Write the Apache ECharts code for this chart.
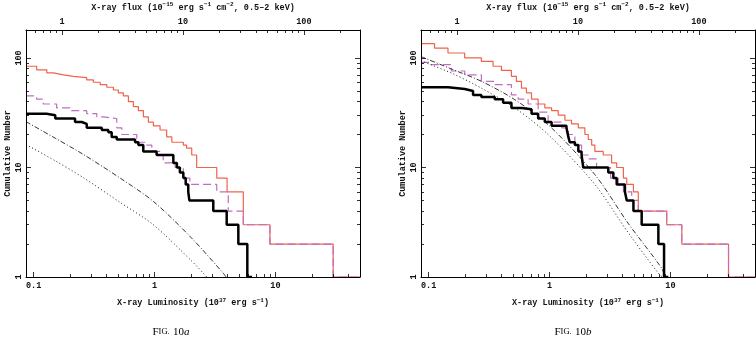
<!DOCTYPE html>
<html><head><meta charset="utf-8">
<script src="https://cdn.jsdelivr.net/npm/echarts@6/dist/echarts.min.js"></script>
<style>html,body{margin:0;padding:0;background:#fff}#c{width:756px;height:341px}</style>
</head><body><div id="c"></div>
<script>
// ---- tick values ----
const lumTickMajor = [0.1, 1, 10];
const lumTickMinor = [0.2,0.3,0.4,0.5,0.6,0.7,0.8,0.9,2,3,4,5,6,7,8,9,20,30,40];
const fluxTickMajor = [1, 10, 100];
const fluxTickMinor = [0.6,0.7,0.8,0.9,2,3,4,5,6,7,8,9,20,30,40,50,60,70,80,90,200];
const nTickMajor = [1, 10, 100];
const nTickMinor = [2,3,4,5,6,7,8,9,20,30,40,50,60,70,80,90];
const lumRange = [0.0865, 50];
const fluxPerLum = 5.82;
const nRange = [1, 180];

// ---- Fig. 10a ----
const a_red_L = [0.0865,0.106,0.1285,0.146,0.1765,0.2135,0.275,0.312,0.355,0.403,0.457,0.502,0.552,0.608,0.668,0.735,0.809,0.889,0.978,1.11,1.26,1.39,1.73,1.84,2.03,2.23,3.27,3.98,5.42,9.0,30,50];
const a_red_N = [84,78,73,70,68,66,63,60,57,54,51,48,45,40,36,33,29,26,24,22,19,17,16,15,13,10,8,6,3,2,1,1];
const a_mag_L = [0.0865,0.106,0.12,0.155,0.2,0.275,0.333,0.377,0.487,0.536,0.713,0.862,0.949,1.11,1.18,1.48,1.73,1.96,3.27,4.07,5.42,9.0,30,50];
const a_mag_N = [45,42,38,35,33,31,29,28,23,20,17,16,14,13,11,10,8,7,6,4,3,2,1,1];
const a_blk_L = [0.0865,0.128,0.151,0.22,0.25,0.275,0.366,0.415,0.442,0.487,0.69,0.735,0.807,1.04,1.43,1.53,1.62,1.73,1.81,1.9,1.94,3.06,3.95,4.93,5.85,6.4];
const a_blk_N = [31,30,28,26,25,23,22,21,19,18,17,16,14,13,11,10,9,8,7,6,5,4,3,2,1,1];
const a_dd_L = [0.0865,0.151,0.2565,0.519,0.977,2.0,3.71,3.9];
const a_dd_N = [26.2,18.5,13.2,8.0,4.9,2.3,1.08,1.0];
const a_dot_L = [0.0865,0.151,0.2565,0.519,0.977,2.0,2.6,2.7];
const a_dot_N = [16.2,11.5,8.1,4.8,3.0,1.42,1.05,1.0];

// ---- Fig. 10b ----
const b_red_L = [0.0865,0.112,0.1446,0.1986,0.273,0.341,0.400,0.484,0.532,0.586,0.644,0.709,0.805,0.914,1.04,1.18,1.34,1.52,1.73,1.96,2.09,2.23,2.37,2.78,3.26,3.59,4.08,4.35,4.94,5.42,9.31,12.4,30.2,50];
const b_red_N = [135,123,111,100,93,84,77,68,61,53,48,42,38,35,33,30,27,25,23,20,18,16,14,13,11,10,8,7,6,4,3,2,1,1];
const b_mag_L = [0.0865,0.105,0.154,0.199,0.273,0.35,0.484,0.55,0.665,0.805,0.973,1.26,1.43,1.62,1.84,2.09,2.45,3.2,3.7,4.08,4.78,5.42,9.31,12.4,30.2,50];
const b_mag_N = [91,87,76,70,61,57,46,42,38,32,26,23,20,16,13,12,10,8,7,6,5,4,3,2,1,1];
const b_blk_L = [0.0865,0.145,0.199,0.233,0.273,0.352,0.413,0.484,0.586,0.71,0.805,0.914,1.04,1.38,1.43,1.47,1.62,1.73,1.84,1.90,3.06,3.37,3.59,4.2,4.35,4.94,5.78,7.94,8.85,9.6];
const b_blk_N = [54,52,50,46,44,42,39,35,34,31,28,26,24,23,19,17,16,14,13,10,9,8,7,6,5,4,3,2,1,1];
const b_dd_L = [0.0865,0.158,0.2735,0.516,0.973,2.37,4.46,8.47,9.02];
const b_dd_N = [103,78.5,61.2,41.6,24.6,8.6,3.1,1.2,1.0];
const b_dot_L = [0.0865,0.158,0.2735,0.516,0.973,2.37,4.46,8.0,8.6];
const b_dot_N = [94,72,53,35,20,7.0,2.55,1.07,1.0];

const captions = ['a', 'b'];

// ---- styling ----
const MONO = '"Liberation Mono", "DejaVu Sans Mono", monospace';
const SERIF = '"Liberation Serif", "DejaVu Serif", serif';
const RED = '#f0634b', MAG = '#bd6fc2', BLK = '#000';
const TW = 'bold';
const panelsLeft = [26, 421];
const gridTop = 30, gridW = 334, gridH = 247;
const richName = {
  n: {fontFamily: MONO, fontSize: 8.5, fontWeight: TW, color: '#111', lineHeight: 12},
  s: {fontFamily: MONO, fontSize: 6, fontWeight: TW, color: '#111', lineHeight: 6, verticalAlign: 'top'}
};
const fmt = v => String(+(+v).toPrecision(3));

function logAxis(o) {
  return {
    type: 'log', logBase: 10, gridIndex: o.g, position: o.pos,
    min: o.min, max: o.max,
    axisLine: {show: !!o.line, onZero: false, lineStyle: {color: '#000', width: 1}},
    axisTick: {show: true, inside: true, length: o.len, customValues: o.ticks,
               lineStyle: {color: '#000', width: 0.8}},
    axisLabel: o.labels ? {show: true, customValues: o.labels, formatter: fmt,
               fontFamily: MONO, fontSize: 8.5, fontWeight: TW, color: '#111', margin: o.margin,
               rotate: o.rotate || 0} : {show: false},
    splitLine: {show: false}, minorTick: {show: false}, minorSplitLine: {show: false},
    name: o.name || '', nameLocation: 'middle', nameGap: o.nameGap || 0,
    nameRotate: o.nameRotate || 0,
    nameTextStyle: o.nameStyle || {},
    z: 10
  };
}

const grids = [], xAxes = [], yAxes = [], series = [];
const panelData = [
  {red: [a_red_L, a_red_N], mag: [a_mag_L, a_mag_N], blk: [a_blk_L, a_blk_N], dd: [a_dd_L, a_dd_N], dot: [a_dot_L, a_dot_N]},
  {red: [b_red_L, b_red_N], mag: [b_mag_L, b_mag_N], blk: [b_blk_L, b_blk_N], dd: [b_dd_L, b_dd_N], dot: [b_dot_L, b_dot_N]}
];
const pair = (L, N) => L.map((l, i) => [l, N[i]]);

panelData.forEach((p, g) => {
  grids.push({left: panelsLeft[g], top: gridTop, width: gridW, height: gridH,
              containLabel: false, outerBoundsMode: 'none', show: false});
  const fMin = lumRange[0] * fluxPerLum, fMax = lumRange[1] * fluxPerLum;
  xAxes.push(logAxis({g, pos: 'bottom', min: lumRange[0], max: lumRange[1], line: true, len: 5,
    ticks: lumTickMajor, labels: lumTickMajor, margin: 4,
    name: '{n|X-ray Luminosity (10}{s|37}{n| erg s}{s|−1}{n|)}', nameGap: 20,
    nameStyle: {rich: richName}}));
  xAxes.push(logAxis({g, pos: 'bottom', min: lumRange[0], max: lumRange[1], line: false, len: 3,
    ticks: lumTickMinor}));
  xAxes.push(logAxis({g, pos: 'top', min: fMin, max: fMax, line: true, len: 5,
    ticks: fluxTickMajor, labels: fluxTickMajor, margin: 4,
    name: '{n|X-ray flux (10}{s|−15}{n| erg s}{s|−1}{n| cm}{s|−2}{n|, 0.5–2 keV)}', nameGap: 15,
    nameStyle: {rich: richName}}));
  xAxes.push(logAxis({g, pos: 'top', min: fMin, max: fMax, line: false, len: 3,
    ticks: fluxTickMinor}));
  yAxes.push(logAxis({g, pos: 'left', min: nRange[0], max: nRange[1], line: true, len: 5,
    ticks: nTickMajor, labels: nTickMajor, margin: 3, rotate: 90,
    name: 'Cumulative Number', nameGap: 14, nameRotate: 90,
    nameStyle: {fontFamily: MONO, fontSize: 8.5, fontWeight: TW, color: '#111'}}));
  yAxes.push(logAxis({g, pos: 'left', min: nRange[0], max: nRange[1], line: false, len: 3,
    ticks: nTickMinor}));
  yAxes.push(logAxis({g, pos: 'right', min: nRange[0], max: nRange[1], line: true, len: 5,
    ticks: nTickMajor}));
  yAxes.push(logAxis({g, pos: 'right', min: nRange[0], max: nRange[1], line: false, len: 3,
    ticks: nTickMinor}));
  const xi = g * 4, yi = g * 4;
  const base = {type: 'line', xAxisIndex: xi, yAxisIndex: yi, symbol: 'none', showSymbol: false,
                animation: false, silent: true, clip: true};
  series.push(Object.assign({}, base, {data: pair(...p.red), step: 'end', z: 2,
    lineStyle: {color: RED, width: 1.2}}));
  series.push(Object.assign({}, base, {data: pair(...p.mag), step: 'end', z: 3,
    lineStyle: {color: MAG, width: 1.2, type: [8, 4]}}));
  series.push(Object.assign({}, base, {data: pair(...p.dd), smooth: 0.3, z: 4,
    lineStyle: {color: BLK, width: 0.8, type: [5, 2, 1, 2]}}));
  series.push(Object.assign({}, base, {data: pair(...p.dot), smooth: 0.3, z: 4,
    lineStyle: {color: BLK, width: 0.9, type: [1, 2.5]}}));
  series.push(Object.assign({}, base, {data: pair(...p.blk), step: 'end', z: 5,
    lineStyle: {color: BLK, width: 2.5}}));
});

const captionX = [171, 573];
const graphic = captions.map((c, i) => ({
  type: 'text', x: captionX[i], y: 332,
  style: {
    text: '{f|F}{sc|IG.} {f|10}{i|' + c + '}',
    align: 'center', verticalAlign: 'middle',
    rich: {
      f: {fontFamily: SERIF, fontSize: 11, fill: '#000'},
      sc: {fontFamily: SERIF, fontSize: 8.5, fill: '#000'},
      i: {fontFamily: SERIF, fontSize: 11, fontStyle: 'italic', fill: '#000'}
    }
  }
}));

const chart = echarts.init(document.getElementById('c'), null, {renderer: 'canvas'});
chart.setOption({
  animation: false,
  backgroundColor: '#fff',
  grid: grids, xAxis: xAxes, yAxis: yAxes, series, graphic
});
</script></body></html>
